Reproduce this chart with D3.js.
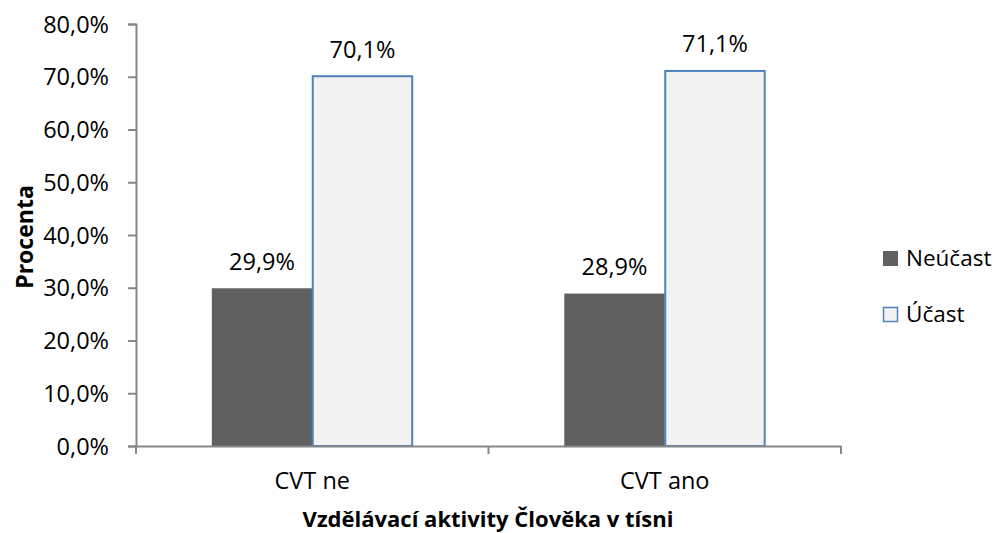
<!DOCTYPE html>
<html>
<head>
<meta charset="utf-8">
<style>
body { margin: 0; background: #fff; }
text { font-family: "Open Sans", sans-serif; fill: #000; }
</style>
</head>
<body>
<div id="chart"></div>
<script src="https://cdnjs.cloudflare.com/ajax/libs/d3/7.8.5/d3.min.js"></script>
<script>
// data
var categories = ['CVT ne', 'CVT ano'];
var seriesNames = ['Neúčast', 'Účast'];
var neucast = [29.9, 28.9];
var ucast = [70.1, 71.1];
var yTicks = [0, 10, 20, 30, 40, 50, 60, 70, 80];

var w = 994, h = 533;
var margin = {top: 24, right: 153, bottom: 87, left: 136};
var fill = {'Neúčast': '#606060', 'Účast': '#f2f2f2'};
var stroke = {'Neúčast': 'none', 'Účast': '#4f81bd'};
var fs = '23.5px';
var fmt = function(v) { return v.toFixed(1).replace('.', ',') + '%'; };

var rows = categories.map(function(c, i) {
    return {cat: c, vals: [{k: seriesNames[0], v: neucast[i]}, {k: seriesNames[1], v: ucast[i]}]};
});

var svg = d3.select('#chart').append('svg')
    .attr('width', w)
    .attr('height', h);

var x0 = d3.scaleBand()
    .domain(categories)
    .range([margin.left, w - margin.right])
    .paddingInner(0.43)
    .paddingOuter(0.215);

var x1 = d3.scaleBand()
    .domain(seriesNames)
    .range([0, x0.bandwidth()]);

var y = d3.scaleLinear()
    .domain([0, 80])
    .range([h - margin.bottom, margin.top]);

// bars
var groups = svg.selectAll('g.grp')
    .data(rows)
    .enter().append('g')
    .attr('class', 'grp')
    .attr('transform', function(d) { return 'translate(' + x0(d.cat) + ',0)'; });

groups.selectAll('rect')
    .data(function(d) { return d.vals; })
    .enter().append('rect')
    .attr('x', function(d) { return x1(d.k) + (d.k === 'Účast' ? 0.5 : 0); })
    .attr('y', function(d) { return y(d.v); })
    .attr('width', function(d) { return x1.bandwidth() - (d.k === 'Účast' ? 1 : 0); })
    .attr('height', function(d) { return y(0) - y(d.v); })
    .attr('fill', function(d) { return fill[d.k]; })
    .attr('stroke', function(d) { return stroke[d.k]; })
    .attr('stroke-width', 2);

groups.selectAll('text.val')
    .data(function(d) { return d.vals; })
    .enter().append('text')
    .attr('class', 'val')
    .attr('x', function(d) { return x1(d.k) + x1.bandwidth() / 2; })
    .attr('y', function(d) { return y(d.v) - 18.5; })
    .attr('text-anchor', 'middle')
    .attr('font-size', fs)
    .text(function(d) { return fmt(d.v); });

// y axis
var yAxis = svg.append('g')
    .attr('transform', 'translate(' + margin.left + ',0)')
    .call(d3.axisLeft(y).tickValues(yTicks).tickSize(8).tickPadding(19).tickFormat(fmt));
yAxis.selectAll('text').attr('font-size', fs).attr('dy', '0.35em').style('font-family', '"Open Sans"');

// x axis
var xAxis = svg.append('g')
    .attr('transform', 'translate(0,' + y(0) + ')')
    .call(d3.axisBottom(x0).tickSize(0).tickPadding(26));
xAxis.selectAll('text').attr('font-size', fs).style('font-family', '"Open Sans"');
// category boundary ticks
var bounds = [margin.left, margin.left + x0.step(), w - margin.right];
xAxis.selectAll('line.bnd')
    .data(bounds)
    .enter().append('line')
    .attr('class', 'bnd')
    .attr('x1', function(d) { return d; })
    .attr('x2', function(d) { return d; })
    .attr('y1', 0)
    .attr('y2', 8);

svg.selectAll('.domain, .tick line, line.bnd')
    .attr('stroke', '#868686')
    .attr('stroke-width', 2);

// axis titles
svg.append('text')
    .attr('transform', 'translate(33,237) rotate(-90)')
    .attr('text-anchor', 'middle')
    .attr('font-size', '23px')
    .attr('font-weight', 'bold')
    .text('Procenta');

svg.append('text')
    .attr('x', 488)
    .attr('y', 527)
    .attr('text-anchor', 'middle')
    .attr('font-size', '22px')
    .attr('font-weight', 'bold')
    .text('Vzdělávací aktivity Člověka v tísni');

// legend
var legend = svg.selectAll('g.leg')
    .data(seriesNames)
    .enter().append('g')
    .attr('class', 'leg')
    .attr('transform', function(d, i) { return 'translate(883,' + (251 + i * 56) + ')'; });

legend.append('rect')
    .attr('x', function(d) { return d === 'Účast' ? 0.5 : 0; })
    .attr('y', function(d) { return d === 'Účast' ? 0.5 : 0; })
    .attr('width', function(d) { return d === 'Účast' ? 14 : 15; })
    .attr('height', function(d) { return d === 'Účast' ? 14 : 15; })
    .attr('fill', function(d) { return fill[d]; })
    .attr('stroke', function(d) { return stroke[d]; })
    .attr('stroke-width', 1.5);

legend.append('text')
    .attr('x', 23)
    .attr('y', 15)
    .attr('font-size', '22.5px')
    .text(function(d) { return d; });
</script>
</body>
</html>
